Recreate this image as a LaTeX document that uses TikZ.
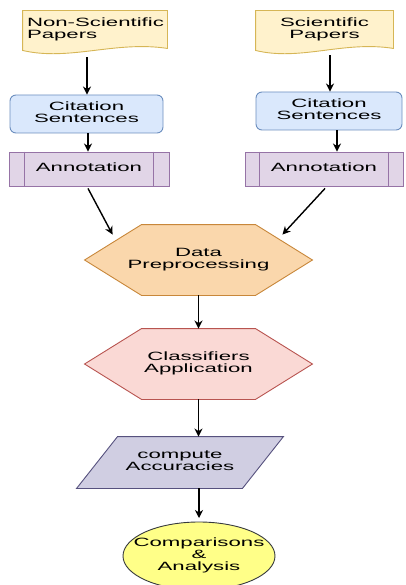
\documentclass[tikz,border=0pt]{standalone}
\usepackage{fontspec}
\setmainfont{Liberation Sans}
\usepackage{graphicx}
\usetikzlibrary{arrows.meta,calc,shapes.geometric,backgrounds}
\definecolor{docfill}{HTML}{FFF2CC}
\definecolor{docline}{HTML}{D6B656}
\definecolor{citefill}{HTML}{DAE8FC}
\definecolor{citeline}{HTML}{6C8EBF}
\definecolor{annfill}{HTML}{E1D5E7}
\definecolor{annline}{HTML}{9673A6}
\definecolor{prepfill}{HTML}{FAD7AC}
\definecolor{prepline}{HTML}{C8873A}
\definecolor{clsfill}{HTML}{FAD9D5}
\definecolor{clsline}{HTML}{B85450}
\definecolor{accfill}{HTML}{D0CEE2}
\definecolor{accline}{HTML}{56517E}
\definecolor{cmpfill}{HTML}{FFFF88}
\definecolor{cmpline}{HTML}{36393D}
\newcommand{\Wtext}[1]{\scalebox{1.85}[1]{\begin{tabular}{@{}c@{}}#1\end{tabular}}}
\newcommand{\Ltext}[1]{\scalebox{1.85}[1]{\begin{tabular}{@{}l@{}}#1\end{tabular}}}
\tikzset{
  box/.style={inner sep=0pt,line width=0.9pt},
  docbox/.style={box,draw=none},
  citebox/.style={box,draw=citeline,fill=citefill,rounded corners=6pt},
  annbox/.style={box,draw=annline,fill=annfill},
  hexbox/.style={box,draw=none,minimum width=227,minimum height=70},
  arr/.style={-{Stealth[length=8pt,width=8pt,inset=2.5pt]},line width=1.4pt,black},
}
\begin{document}
\begin{tikzpicture}[x=1pt,y=-1pt,font={\fontsize{12}{11}\selectfont}]
\useasboundingbox (0,0) rectangle (406,585);
% inputs
\node (nsp) [docbox,minimum width=144,minimum height=38,inner xsep=4pt] at (95,30) {\makebox[136pt][l]{\Ltext{Non-Scientific\\Papers}}};
\node (sp) [docbox,minimum width=137,minimum height=38] at (324.5,30) {\Wtext{Scientific\\Papers}};
\node (csl) [citebox,minimum width=153,minimum height=38] at (86.5,114) {\Wtext{Citation\\Sentences}};
\node (csr) [citebox,minimum width=146,minimum height=38] at (329,111) {\Wtext{Citation\\Sentences}};
\node (anl) [annbox,minimum width=160,minimum height=34] at (89,169) {\Wtext{Annotation}};
\node (anr) [annbox,minimum width=158,minimum height=34] at (324,169) {\Wtext{Annotation}};
\draw[annline,line width=0.9pt] ($(anl.north west)+(16,0)$) -- ($(anl.south west)+(16,0)$)
  ($(anl.north east)+(-16,0)$) -- ($(anl.south east)+(-16,0)$);
\draw[annline,line width=0.9pt] ($(anr.north west)+(15,0)$) -- ($(anr.south west)+(15,0)$)
  ($(anr.north east)+(-15,0)$) -- ($(anr.south east)+(-15,0)$);
% pipeline
\node (dp) [hexbox] at (198.5,260) {\Wtext{Data\\Preprocessing}};
\node (ca) [hexbox] at (198.5,364) {\Wtext{Classifiers\\Application}};
\node (acc) [box,minimum width=206,minimum height=51] at (180,462.5) {\Wtext{compute\\Accuracies}};
\node (cmp) [box] at (199,556) {\Wtext{Comparisons\\\&\\Analysis}};
\coordinate (cmptop) at ($(cmp.center)+(0,-34)$);
\begin{pgfonlayer}{background}
\filldraw[docline,fill=docfill,line width=0.9pt] (nsp.north west) -- (nsp.north east) -- ($(nsp.south east)+(0,-1)$)
  .. controls +(-52,-8) and +(47,11) .. ($(nsp.south west)+(0,1)$) -- cycle;
\filldraw[docline,fill=docfill,line width=0.9pt] (sp.north west) -- (sp.north east) -- ($(sp.south east)+(0,-1)$)
  .. controls +(-50,-8) and +(45,11) .. ($(sp.south west)+(0,1)$) -- cycle;
\filldraw[prepline,fill=prepfill,line width=0.9pt] (dp.west) -- ($(dp.north west)+(57,0)$) -- ($(dp.north east)+(-57,0)$)
  -- (dp.east) -- ($(dp.south east)+(-57,0)$) -- ($(dp.south west)+(57,0)$) -- cycle;
\filldraw[clsline,fill=clsfill,line width=0.9pt] (ca.west) -- ($(ca.north west)+(57,0)$) -- ($(ca.north east)+(-57,0)$)
  -- (ca.east) -- ($(ca.south east)+(-57,0)$) -- ($(ca.south west)+(57,0)$) -- cycle;
\filldraw[accline,fill=accfill,line width=0.9pt] ($(acc.north west)+(41,0)$) -- (acc.north east)
  -- ($(acc.south east)+(-41,0)$) -- (acc.south west) -- cycle;
\filldraw[cmpline,fill=cmpfill,line width=0.9pt] (cmp.center) ellipse (76 and 34);
\end{pgfonlayer}
%
\path[arr] ($(nsp.south)+(-8,8)$) edge (csl.north -| 87,0);
\path[arr] ($(sp.south)+(5.5,6)$) edge (csr.north -| 330,0);
\path[arr] ($(csl.south)+(1.5,0)$) edge ($(anl.north)+(-1,0)$);
\path[arr] ($(csr.south)+(8,0)$) edge ($(anr.north)+(13,0)$);
\path[arr] ($(anl.south)+(-1,2)$) edge ($(dp.north west)+(28,10)$);
\path[arr] ($(anr.south)+(1,2)$) edge ($(dp.north east)+(-30,10)$);
\path[arr] (dp.south) edge (ca.north);
\path[arr] (ca.south) edge (ca.south |- acc.north);
\path[arr] (acc.south -| cmptop) edge ($(cmptop)+(0,-4)$);
\end{tikzpicture}
\end{document}
